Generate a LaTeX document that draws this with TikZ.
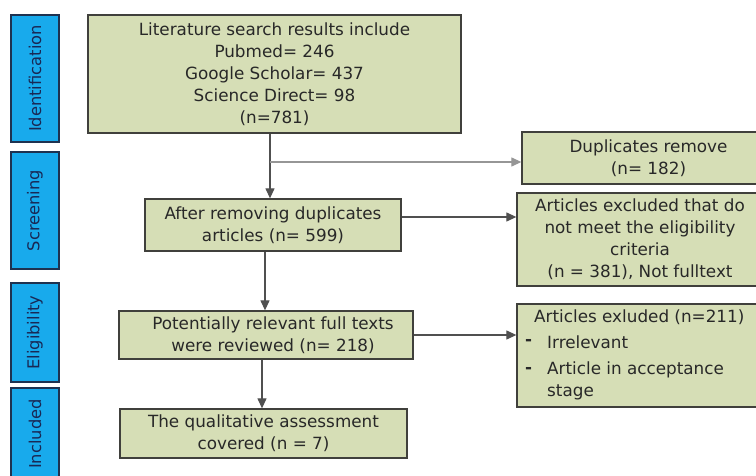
\documentclass[tikz,border=0pt]{standalone}
\usepackage{fontspec}
\setmainfont{DejaVu Sans}
\usetikzlibrary{arrows.meta,calc}
\definecolor{boxfill}{RGB}{214,222,182}
\definecolor{boxline}{RGB}{64,64,60}
\definecolor{stageblue}{RGB}{24,170,236}
\definecolor{stageline}{RGB}{30,50,80}
\definecolor{stagetext}{RGB}{25,40,85}
\definecolor{arrline}{RGB}{80,80,80}
\definecolor{txt}{RGB}{40,40,40}
\newcommand{\boxfont}{\fontsize{16.8}{22}\selectfont}
\newcommand{\stagefont}{\fontsize{16.3}{20}\selectfont}
\begin{document}
\begin{tikzpicture}[x=1pt,y=-1pt,
  flowbox/.style={draw=boxline, line width=1.3pt, fill=boxfill, inner sep=0pt,
    font=\boxfont, align=center, text=txt},
  stagebox/.style={draw=stageline, line width=1.3pt, fill=stageblue, inner sep=0pt,
    rotate=90, minimum height=48pt, font=\stagefont, text=stagetext},
  plaintext/.style={inner sep=0pt, font=\boxfont, text=txt, anchor=west},
  arr/.style={draw=arrline, line width=1.2pt, -{Triangle[length=10pt,width=9pt]}}]
\useasboundingbox (0,0) rectangle (756,476);
\clip (0,0) rectangle (756,476);

% stage labels
\node[stagebox, minimum width=127pt] (sid) at (35,78.5) {Identification};
\node[stagebox, minimum width=117pt] (ssc) at (35,210.5) {Screening};
\node[stagebox, minimum width=99pt] (sel) at (35,332.5) {Eligibility};
\node[stagebox, minimum width=92pt] (sin) at (35,434) {Included};

% main boxes
\node[flowbox, minimum width=373pt, minimum height=118pt] (top) at (274.5,74)
  {Literature search results include\\Pubmed= 246\\Google Scholar= 437\\Science Direct= 98\\(n=781)};
\node[flowbox, minimum width=256pt, minimum height=52pt] (b2) at (273,225)
  {After removing duplicates\\articles (n= 599)};
\node[flowbox, minimum width=294pt, minimum height=48pt] (b3) at (266,335)
  {\hspace*{14pt}Potentially relevant full texts\\\hspace*{14pt}were reviewed (n= 218)};
\node[flowbox, minimum width=287pt, minimum height=49pt] (b5) at (263.5,433.5)
  {The qualitative assessment\\covered (n = 7)};

% right boxes
\node[flowbox, minimum width=253pt, minimum height=52pt] (dup) at (648.5,158)
  {Duplicates remove\\(n= 182)};
\node[flowbox, minimum width=246pt, minimum height=93pt] (excl) at (640,239.5)
  {Articles excluded that do\\not meet the eligibility\\criteria\\(n = 381), Not fulltext};
\node[flowbox, minimum width=258pt, minimum height=103pt] (b4) at (646,355.5) {};
\node[plaintext] (b4t) at (534,317) {Articles exluded (n=211)};
\node[plaintext, font=\boxfont\bfseries] (b4d1) at (525,342) {-};
\node[plaintext] (b4i1) at (547,342) {Irrelevant};
\node[plaintext, font=\boxfont\bfseries] (b4d2) at (525,370) {-};
\node[plaintext] (b4i2) at (547,370) {Article in acceptance};
\node[plaintext] (b4i3) at (547,392) {stage};

% connectors
\coordinate (c1) at (270,0);
\coordinate (br) at (270,162);
\coordinate (h2) at (0,217);
\coordinate (c3) at (265,0);
\coordinate (c5) at (262,0);
\draw[arr] (top.south -| c1) -- (b2.north -| c1);
\draw[arr, draw=arrline!60] (br) -- (dup.west |- br);
\draw[arr] (b2.east |- h2) -- (excl.west |- h2);
\draw[arr] (b2.south -| c3) -- (b3.north -| c3);
\draw[arr] (b3.east) -- (b4.west |- b3.east);
\draw[arr] (b3.south -| c5) -- (b5.north -| c5);
\end{tikzpicture}
\end{document}
